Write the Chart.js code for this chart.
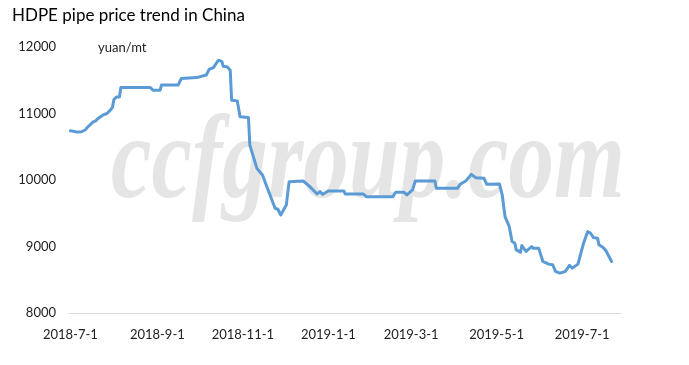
<!DOCTYPE html>
<html>
<head>
<meta charset="utf-8">
<script src="https://cdn.jsdelivr.net/npm/chart.js@4/dist/chart.umd.min.js"></script>
<style>
  html, body { margin: 0; padding: 0; background: #ffffff; }
  #wrap { width: 689px; height: 365px; position: relative; }
</style>
</head>
<body>
<div id="wrap"><canvas id="c" width="689" height="365"></canvas></div>
<script>
const titleText = "HDPE pipe price trend in China";
const unitText = "yuan/mt";
const watermarkText = "ccfgroup.com";

const dates = [
  "2018-07-01","2018-07-06","2018-07-09","2018-07-12","2018-07-13","2018-07-17","2018-07-19","2018-07-21",
  "2018-07-24","2018-07-27","2018-07-29","2018-07-31","2018-08-01","2018-08-03","2018-08-05","2018-08-06",
  "2018-08-27","2018-08-29","2018-09-03","2018-09-04","2018-09-16","2018-09-18","2018-09-29","2018-10-06",
  "2018-10-08","2018-10-11","2018-10-14","2018-10-15","2018-10-17","2018-10-18","2018-10-21","2018-10-23",
  "2018-10-24","2018-10-28","2018-10-30","2018-11-05","2018-11-06","2018-11-11","2018-11-15","2018-11-19",
  "2018-11-24","2018-11-26","2018-11-28","2018-12-02","2018-12-04","2018-12-14","2018-12-18","2018-12-24",
  "2018-12-26","2018-12-28","2019-01-01","2019-01-12","2019-01-13","2019-01-26","2019-01-28","2019-02-16",
  "2019-02-18","2019-02-24","2019-02-26","2019-03-02","2019-03-04","2019-03-18","2019-03-19","2019-04-03",
  "2019-04-05","2019-04-09","2019-04-13","2019-04-16","2019-04-22","2019-04-24","2019-05-03","2019-05-05",
  "2019-05-07","2019-05-10","2019-05-12","2019-05-14","2019-05-15","2019-05-18","2019-05-19","2019-05-22",
  "2019-05-26","2019-05-27","2019-05-31","2019-06-03","2019-06-07","2019-06-10","2019-06-12","2019-06-15",
  "2019-06-19","2019-06-22","2019-06-24","2019-06-28","2019-07-02","2019-07-05","2019-07-07","2019-07-09",
  "2019-07-12","2019-07-13","2019-07-16","2019-07-18","2019-07-22"
];
const prices = [
  10740,10720,10725,10760,10790,10870,10890,10930,
  10975,11000,11040,11090,11210,11250,11250,11390,
  11390,11350,11350,11430,11430,11525,11540,11580,
  11665,11690,11785,11800,11785,11710,11700,11650,
  11200,11190,10950,10940,10525,10175,10075,9850,
  9575,9560,9475,9625,9975,9985,9915,9790,
  9825,9785,9835,9835,9790,9790,9750,9750,
  9815,9815,9775,9850,9985,9985,9875,9875,
  9935,9985,10085,10035,10025,9935,9940,9775,
  9450,9300,9075,9050,8950,8915,9015,8925,
  9000,8975,8975,8775,8735,8725,8625,8600,
  8625,8715,8675,8735,9050,9225,9200,9135,
  9125,9025,8985,8935,8775
];
const tickDates = ["2018-07-01","2018-09-01","2018-11-01","2019-01-01","2019-03-01","2019-05-01","2019-07-01"];
const tickLabels = ["2018-7-1","2018-9-1","2018-11-1","2019-1-1","2019-3-1","2019-5-1","2019-7-1"];
const yTicks = [8000, 9000, 10000, 11000, 12000];

function dayOffset(s) {
  const p = s.split("-").map(Number);
  return Math.round((Date.UTC(p[0], p[1] - 1, p[2]) - Date.UTC(2018, 6, 1)) / 86400000);
}
const points = dates.map((d, i) => ({ x: dayOffset(d), y: prices[i] }));
const tickDays = tickDates.map(dayOffset);

const FONT = "Lato, 'Open Sans', 'Liberation Sans', sans-serif";

const decor = {
  id: 'decor',
  beforeDatasetsDraw(chart) {
    const ctx = chart.ctx;
    ctx.save();
    ctx.fillStyle = '#e5e5e5';
    ctx.font = "italic bold 118px 'Liberation Serif', 'DejaVu Serif', serif";
    ctx.textBaseline = 'alphabetic';
    const w = ctx.measureText(watermarkText).width;
    const target = 514;
    ctx.translate(111, 197);
    ctx.scale(target / w, 1);
    ctx.fillText(watermarkText, 0, 0);
    ctx.restore();
  },
  afterDraw(chart) {
    const ctx = chart.ctx;
    ctx.save();
    ctx.fillStyle = '#000000';
    ctx.textBaseline = 'alphabetic';
    ctx.font = "17px " + FONT;
    ctx.fillText(titleText, 12, 21);
    ctx.font = "13px " + FONT;
    ctx.fillStyle = '#222222';
    ctx.fillText(unitText, 98, 52);
    ctx.restore();
  }
};

new Chart(document.getElementById('c'), {
  type: 'line',
  data: {
    datasets: [{
      data: points,
      borderColor: '#5b9bd5',
      borderWidth: 3,
      pointRadius: 0,
      fill: false,
      tension: 0,
      borderJoinStyle: 'round',
      borderCapStyle: 'round'
    }]
  },
  options: {
    responsive: false,
    animation: false,
    events: [],
    layout: { padding: { left: 0, right: 69, top: 47, bottom: 0 } },
    plugins: { legend: { display: false }, title: { display: false }, tooltip: { enabled: false } },
    scales: {
      x: {
        type: 'linear',
        min: -1,
        max: 392,
        afterBuildTicks(scale) { scale.ticks = tickDays.map(v => ({ value: v })); },
        afterFit(scale) { scale.height = 52; },
        grid: { display: false, drawTicks: false },
        border: { display: true, color: '#d9d9d9', width: 1 },
        ticks: {
          autoSkip: false,
          maxRotation: 0,
          padding: 14,
          color: '#222222',
          font: { family: FONT, size: 13 },
          callback(value, index) { return tickLabels[index]; }
        }
      },
      y: {
        min: 8000,
        max: 12000,
        afterBuildTicks(scale) { scale.ticks = yTicks.map(v => ({ value: v })); },
        afterFit(scale) { scale.width = 69; },
        grid: { display: false, drawTicks: false },
        border: { display: false },
        ticks: {
          padding: 13,
          color: '#222222',
          font: { family: FONT, size: 13 },
          callback(value) { return String(value); }
        }
      }
    }
  },
  plugins: [decor]
});
</script>
</body>
</html>
